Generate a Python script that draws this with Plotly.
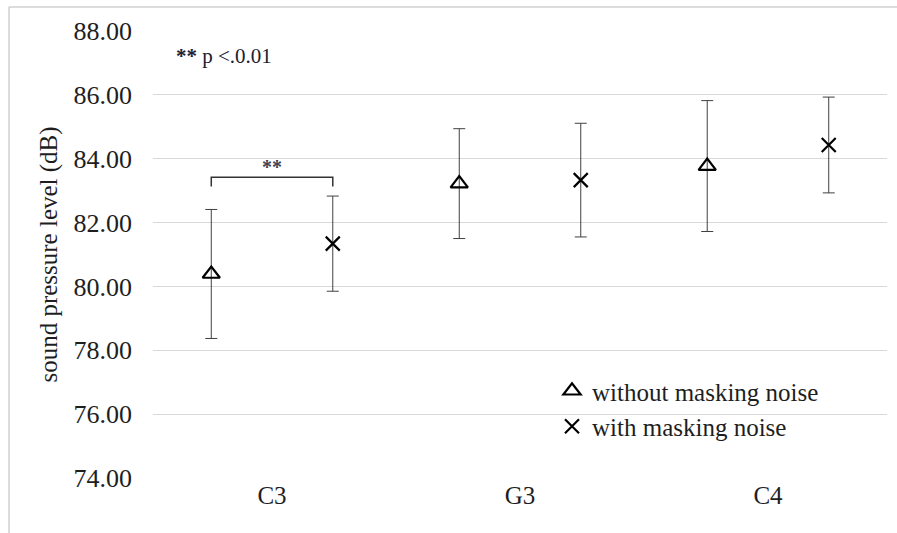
import plotly.graph_objects as go

categories = ["C3", "G3", "C4"]
without_mean = [80.39, 83.22, 83.77]
without_err = [2.02, 1.72, 2.05]
with_mean = [81.34, 83.33, 84.43]
with_err = [1.49, 1.78, 1.50]
y_ticks = [74, 76, 78, 80, 82, 84, 86, 88]

W, H = 897, 533
ML, MR, MT, MB = 153, 10, 31, 55
OFF = 0.245
SERIF = "Liberation Serif"
TXT = "#1e1e1e"

xpos = list(range(len(categories)))

fig = go.Figure()
fig.add_trace(go.Scatter(
    x=[p - OFF for p in xpos], y=without_mean, mode="markers",
    name="without masking noise",
    marker=dict(symbol="triangle-up-open", size=15, color="black",
                line=dict(width=2.2, color="black")),
    error_y=dict(type="data", array=without_err, visible=True,
                 color="#404040", thickness=1, width=6),
))
fig.add_trace(go.Scatter(
    x=[p + OFF for p in xpos], y=with_mean, mode="markers",
    name="with masking noise",
    marker=dict(symbol="x-thin-open", size=14, color="black",
                line=dict(width=2.2, color="black")),
    error_y=dict(type="data", array=with_err, visible=True,
                 color="#404040", thickness=1, width=6),
))

pw = W - ML - MR
ph = H - MT - MB
def px2paper_x(px):
    return (px - ML) / pw
def px2paper_y(py):
    return 1 - (py - MT) / ph

# outer frame (top and left edges only visible)
fig.add_shape(type="line", xref="paper", yref="paper",
              x0=px2paper_x(9), x1=px2paper_x(897), y0=px2paper_y(7), y1=px2paper_y(7),
              line=dict(color="#d0d0d0", width=1.5), layer="below")
fig.add_shape(type="line", xref="paper", yref="paper",
              x0=px2paper_x(9), x1=px2paper_x(9), y0=px2paper_y(7), y1=px2paper_y(533),
              line=dict(color="#d0d0d0", width=1.5), layer="below")

# significance bracket
bx0, bx1 = xpos[0] - OFF, xpos[0] + OFF
fig.add_shape(type="path", xref="x", yref="y",
              path=f"M {bx0},83.13 L {bx0},83.42 L {bx1},83.42 L {bx1},83.13",
              line=dict(color="#333333", width=1.5))
fig.add_annotation(x=xpos[0], y=83.42, xref="x", yref="y", text="<b>**</b>",
                   showarrow=False, yanchor="bottom", yshift=-3,
                   font=dict(family=SERIF, size=20, color="#404050"))
fig.add_annotation(x=px2paper_x(174), y=px2paper_y(56), xref="paper", yref="paper",
                   text="<b>**</b> p &lt;.0.01", showarrow=False, xanchor="left", yanchor="middle",
                   font=dict(family=SERIF, size=21, color="#202030"))

fig.update_layout(
    width=W, height=H,
    margin=dict(l=ML, r=MR, t=MT, b=MB),
    paper_bgcolor="white", plot_bgcolor="white",
    font=dict(family=SERIF, color=TXT),
    showlegend=True,
    legend=dict(x=px2paper_x(552), y=px2paper_y(368), xanchor="left", yanchor="top",
                bgcolor="rgba(0,0,0,0)", font=dict(family=SERIF, size=25, color=TXT),
                itemwidth=30, tracegroupgap=0),
    xaxis=dict(range=[-0.48, 2.48], tickvals=xpos, ticktext=categories,
               showgrid=False, zeroline=False, showline=False, ticks="",
               tickfont=dict(family=SERIF, size=25, color=TXT)),
    yaxis=dict(range=[74, 88], tickvals=y_ticks,
               ticktext=[f"{v:.2f}" for v in y_ticks],
               showgrid=True, gridcolor="#d9d9d9", gridwidth=1, zeroline=False,
               showline=False, ticks="", ticklabelstandoff=20,
               tickfont=dict(family=SERIF, size=26, color=TXT)),
)
fig.update_yaxes(title=dict(text="sound pressure level (dB)", standoff=8,
                            font=dict(family=SERIF, size=25, color=TXT)))

fig.write_html("out.html")
